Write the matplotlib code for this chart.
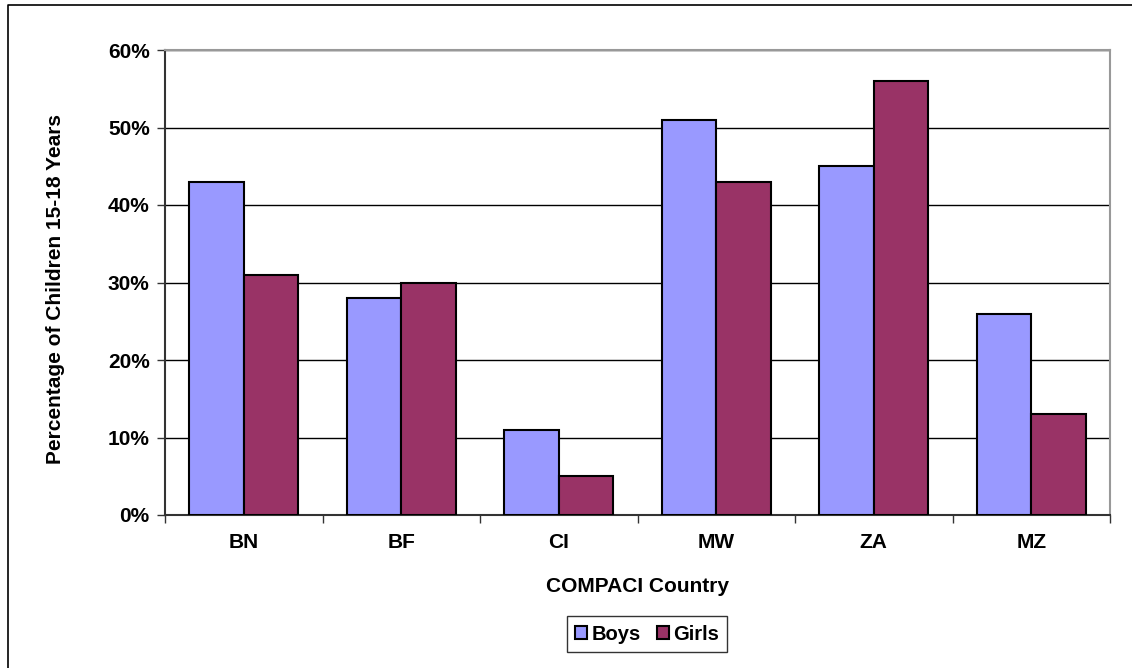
import matplotlib
matplotlib.use("Agg")
import matplotlib.pyplot as plt
from matplotlib.lines import Line2D
import numpy as np

countries = ["BN", "BF", "CI", "MW", "ZA", "MZ"]
boys = [43, 28, 11, 51, 45, 26]
girls = [31, 30, 5, 43, 56, 13]
yticks = [0, 10, 20, 30, 40, 50, 60]

plt.rcParams['font.family'] = ['Liberation Sans', 'DejaVu Sans']
plt.rcParams['font.weight'] = 'bold'

W, H = 1132, 668
fig = plt.figure(figsize=(W/100, H/100), dpi=100)
ax = fig.add_axes([165/W, 1-515/H, (1110-165)/W, (515-50)/H])

x = np.arange(len(countries))
bw = 0.345
ax.bar(x - bw/2, boys, bw, color='#9999FF', edgecolor='black', linewidth=1.5, label='Boys', zorder=3)
ax.bar(x + bw/2, girls, bw, color='#993366', edgecolor='black', linewidth=1.5, label='Girls', zorder=3)

ax.set_xlim(-0.5, len(countries) - 0.5)
ax.set_ylim(0, 60)
ax.set_yticks(yticks)
ax.set_yticklabels([f"{v}%" for v in yticks], fontsize=15, fontweight='bold')
ax.set_xticks(np.arange(len(countries) + 1) - 0.5)
ax.set_xticklabels([])
ax.set_xticks(x, minor=True)
ax.set_xticklabels(countries, minor=True, fontsize=15, fontweight='bold')
ax.tick_params(axis='x', which='minor', length=0, pad=13)
ax.tick_params(axis='x', which='major', length=6, width=1, direction='out', color='#333333')
ax.tick_params(axis='y', length=6, width=1, direction='out', color='#333333', pad=5)

ax.grid(axis='y', color='black', linewidth=1, zorder=0)
ax.set_axisbelow(True)
for s in ['left', 'bottom']:
    ax.spines[s].set_color('#333333')
    ax.spines[s].set_linewidth(1.5)
for s in ['top', 'right']:
    ax.spines[s].set_color('#999999')
    ax.spines[s].set_linewidth(1.5)

ax.set_xlabel("COMPACI Country", fontsize=15, fontweight='bold', labelpad=18)
ax.set_ylabel("Percentage of Children 15-18 Years", fontsize=15, fontweight='bold')
ax.yaxis.set_label_coords(-0.106, 0.486)

leg = fig.legend(loc='center', bbox_to_anchor=(647/W, 1-634/H), ncol=2, frameon=True,
                 fancybox=False, edgecolor='black', fontsize=14.5, handlelength=0.6,
                 handleheight=0.6, handletextpad=0.2, columnspacing=0.8, borderpad=0.4)
leg.get_frame().set_linewidth(1)
for t in leg.get_texts():
    t.set_fontweight('bold')

fig.add_artist(Line2D([8/W, 8/W, 1.0], [0, 1-5/H, 1-5/H], color='black', linewidth=1.2))

fig.savefig("out.png", dpi=100)
